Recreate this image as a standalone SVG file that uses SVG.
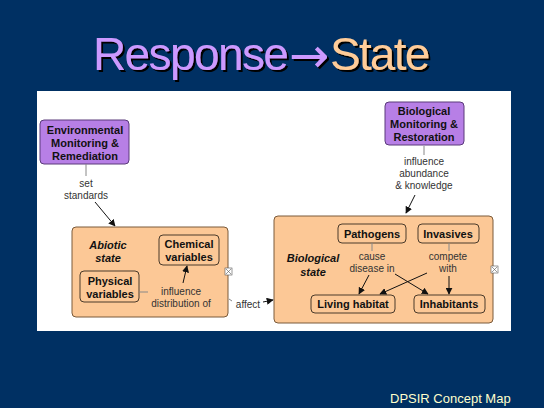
<svg xmlns="http://www.w3.org/2000/svg" width="544" height="408" viewBox="0 0 544 408">
<defs>
<marker id="ah" viewBox="0 0 10 10" refX="9" refY="5" markerWidth="7" markerHeight="7" orient="auto" markerUnits="userSpaceOnUse"><path d="M0,0 L10,5 L0,10 z" fill="#111"/></marker>
<filter id="sh" x="-5%" y="-10%" width="110%" height="130%"><feDropShadow dx="2" dy="2" stdDeviation="0.3" flood-color="#000" flood-opacity="1"/></filter>
</defs>
<style>
.t{font-family:"Liberation Sans",Arial,sans-serif;font-size:11px;text-anchor:middle;fill:#111}
.b{font-weight:bold}
.i{font-weight:bold;font-style:italic}
.lbl{font-family:"Liberation Sans",Arial,sans-serif;font-size:10px;text-anchor:middle;fill:#333}
.purple{fill:#b77fe6;stroke:#5a3a7a;stroke-width:1}
.orange{fill:#fcc896;stroke:#7a5a3a;stroke-width:1}
.inner{fill:#fcc896;stroke:#4a3a2a;stroke-width:1}
.ln{stroke:#888;stroke-width:1;fill:none}
.ar{stroke:#111;stroke-width:1;fill:none;marker-end:url(#ah)}
.ic{fill:#fff;stroke:#555;stroke-width:0.6}
</style>
<rect width="544" height="408" fill="#003063"/>
<g id="title" filter="url(#sh)">
<text x="93" y="70" font-family="Liberation Sans,Arial,sans-serif" font-size="46"><tspan fill="#cc99ff" letter-spacing="-1.6">Response</tspan><tspan x="289" y="72" fill="#cc99ff" font-family="DejaVu Sans,sans-serif" font-size="48">→</tspan><tspan x="330" y="70" fill="#ffcc99" letter-spacing="-1.8">State</tspan></text>
</g>
<rect x="37" y="91" width="474" height="240" fill="#fff"/>
<g id="env">
<rect class="purple" x="40" y="120" width="89" height="44" rx="4"/>
<text class="t b" x="85" y="134">Environmental</text>
<text class="t b" x="85" y="147">Monitoring &amp;</text>
<text class="t b" x="85" y="160">Remediation</text>
</g>
<g id="abiotic">
<rect class="orange" x="72" y="227" width="156" height="90" rx="4"/>
<text class="t i" x="108" y="249">Abiotic</text>
<text class="t i" x="108" y="262">state</text>
<rect x="225" y="268" width="7" height="7" class="ic"/>
<path d="M226,269 L231,274 M231,269 L226,274" stroke="#555" stroke-width="0.6"/>
</g>
<g id="chemical">
<rect class="inner" x="159" y="235" width="60" height="30" rx="4"/>
<text class="t b" x="189" y="248">Chemical</text>
<text class="t b" x="189" y="261">variables</text>
</g>
<g id="physical">
<rect class="inner" x="80" y="271" width="59" height="31" rx="4"/>
<text class="t b" x="110" y="285">Physical</text>
<text class="t b" x="110" y="298">variables</text>
</g>
<g id="biomon">
<rect class="purple" x="385" y="102" width="79" height="43" rx="4"/>
<text class="t b" x="424" y="115">Biological</text>
<text class="t b" x="424" y="128">Monitoring &amp;</text>
<text class="t b" x="424" y="141">Restoration</text>
</g>
<g id="biological">
<rect class="orange" x="274" y="216" width="219" height="107" rx="4"/>
<text class="t i" x="313" y="262">Biological</text>
<text class="t i" x="313" y="276">state</text>
<rect x="491" y="266" width="7" height="7" class="ic"/>
<path d="M492,267 L497,272 M497,267 L492,272" stroke="#555" stroke-width="0.6"/>
</g>
<g id="pathogens">
<rect class="inner" x="338" y="224" width="68" height="19" rx="4"/>
<text class="t b" x="372" y="238">Pathogens</text>
</g>
<g id="invasives">
<rect class="inner" x="418" y="224" width="61" height="19" rx="4"/>
<text class="t b" x="448" y="238">Invasives</text>
</g>
<g id="living">
<rect class="inner" x="311" y="295" width="84" height="18" rx="4"/>
<text class="t b" x="353" y="308">Living habitat</text>
</g>
<g id="inhabitants">
<rect class="inner" x="414" y="295" width="71" height="18" rx="4"/>
<text class="t b" x="449" y="308">Inhabitants</text>
</g>
<g id="connectors">
<line class="ln" x1="86" y1="164" x2="86" y2="176"/>
<text class="lbl" x="86" y="187">set</text>
<text class="lbl" x="86" y="199">standards</text>
<line class="ar" x1="95" y1="202" x2="115" y2="226"/>
<line class="ln" x1="139" y1="292" x2="148" y2="292"/>
<text class="lbl" x="181" y="295">influence</text>
<text class="lbl" x="181" y="307">distribution of</text>
<line class="ar" x1="183" y1="283" x2="187" y2="266"/>
<line class="ln" x1="229" y1="299" x2="232" y2="301"/>
<text class="lbl" x="248" y="308">affect</text>
<line class="ar" x1="263" y1="302" x2="273" y2="300"/>
<line class="ln" x1="424" y1="146" x2="424" y2="155"/>
<text class="lbl" x="424" y="165">influence</text>
<text class="lbl" x="424" y="177">abundance</text>
<text class="lbl" x="424" y="189">&amp; knowledge</text>
<line class="ar" x1="415" y1="195" x2="406" y2="213"/>
<line class="ln" x1="372" y1="243" x2="372" y2="251"/>
<text class="lbl" x="372" y="260">cause</text>
<text class="lbl" x="372" y="272">disease in</text>
<line class="ln" x1="449" y1="243" x2="449" y2="251"/>
<text class="lbl" x="448" y="260">compete</text>
<text class="lbl" x="448" y="272">with</text>
<line class="ar" x1="369" y1="275" x2="359" y2="294"/>
<line class="ar" x1="395" y1="274" x2="428" y2="294"/>
<line class="ar" x1="427" y1="273" x2="380" y2="294"/>
<line class="ar" x1="449" y1="276" x2="449" y2="294"/>
</g>
<text x="390" y="403" font-family="Liberation Sans,Arial,sans-serif" font-size="13" fill="#ffffcc">DPSIR Concept Map</text>
</svg>
